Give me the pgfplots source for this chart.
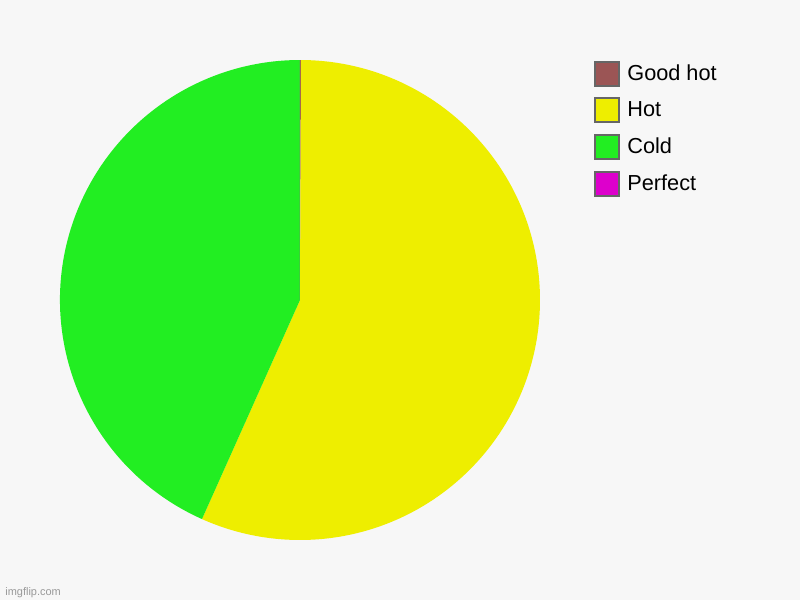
\documentclass[border=0pt]{standalone}
\usepackage{fontspec}
\setmainfont{Liberation Sans}
\usepackage{pgfplots}
\usepackage{pgfplotstable}
\pgfplotsset{compat=1.18}

\definecolor{bg}{HTML}{F7F7F7}
\definecolor{goodhot}{HTML}{9B5555}
\definecolor{hot}{HTML}{EEEE00}
\definecolor{cold}{HTML}{22EE22}
\definecolor{perfect}{HTML}{DD00CC}
\definecolor{boxline}{HTML}{666666}

% slices go clockwise from 12 o'clock in this order
\pgfplotstableread{
label     value
Goodhot   0.02
Hot       17
Cold      13
Perfect   0
}\piedata

\pgfplotstablegetelem{0}{value}\of\piedata \let\va\pgfplotsretval
\pgfplotstablegetelem{1}{value}\of\piedata \let\vb\pgfplotsretval
\pgfplotstablegetelem{2}{value}\of\piedata \let\vc\pgfplotsretval
\pgfplotstablegetelem{3}{value}\of\piedata \let\vd\pgfplotsretval
\pgfmathsetmacro\tot{\va+\vb+\vc+\vd}
\pgfmathsetmacro\angA{90-360*\va/\tot}
\pgfmathsetmacro\angB{\angA-360*\vb/\tot}
\pgfmathsetmacro\angC{\angB-360*\vc/\tot}
\pgfmathsetmacro\angD{\angC-360*\vd/\tot}

\begin{document}
\begin{tikzpicture}
  \fill[bg] (0,0) rectangle (400bp,300bp);
  \begin{axis}[
    at={(0,0)}, anchor=origin,
    scale only axis,
    width=400bp, height=300bp,
    xmin=0, xmax=800, ymin=0, ymax=600,
    hide axis,
    clip=false,
    legend style={
      at={(axis cs:588,544)}, anchor=north west,
      draw=none, fill=none,
      font=\fontsize{10.9}{13}\selectfont,
      row sep=5.2bp,
      cells={anchor=west},
      /tikz/every odd column/.append style={column sep=1.5bp},
    },
    legend image code/.code={
      \filldraw[#1, draw=boxline, line width=1bp] (0bp,-6bp) rectangle (12bp,6bp);
    },
  ]
    \fill[goodhot] (axis cs:300,300) -- ++(90:120bp) arc[start angle=90, end angle=\angA, radius=120bp] -- cycle;
    \fill[hot] (axis cs:300,300) -- ++(\angA:120bp) arc[start angle=\angA, end angle=\angB, radius=120bp] -- cycle;
    \fill[cold] (axis cs:300,300) -- ++(\angB:120bp) arc[start angle=\angB, end angle=\angC, radius=120bp] -- cycle;
    \fill[perfect] (axis cs:300,300) -- ++(\angC:120bp) arc[start angle=\angC, end angle=\angD, radius=120bp] -- cycle;

    \addlegendimage{fill=goodhot}
    \addlegendentry{Good hot}
    \addlegendimage{fill=hot}
    \addlegendentry{Hot}
    \addlegendimage{fill=cold}
    \addlegendentry{Cold}
    \addlegendimage{fill=perfect}
    \addlegendentry{Perfect}

    \node[anchor=base west, text=gray!80, font=\fontsize{5.5}{6}\selectfont, inner sep=0]
      at (axis cs:5,5) {imgflip.com};
  \end{axis}
\end{tikzpicture}
\end{document}
